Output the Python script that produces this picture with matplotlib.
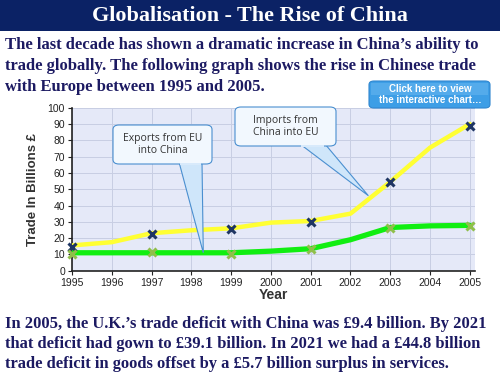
import matplotlib.pyplot as plt
from matplotlib.patches import FancyBboxPatch, Polygon, Rectangle

years = [1995, 1996, 1997, 1998, 1999, 2000, 2001, 2002, 2003, 2004, 2005]
imports_line = [15.5, 17.5, 23, 24.8, 26, 29.5, 30.5, 35, 54.5, 75.5, 90]
exports_line = [11, 11, 11, 11, 11, 12, 13.5, 19, 26.5, 27.5, 27.8]

marker_years = [1995, 1997, 1999, 2001, 2003, 2005]
imports_marks = [14.5, 22.5, 25.5, 30, 54.5, 89]
exports_marks = [10, 11.5, 10.5, 13.5, 26.5, 27.5]

title = 'Globalisation - The Rise of China'
intro = ["The last decade has shown a dramatic increase in China\u2019s ability to",
         "trade globally. The following graph shows the rise in Chinese trade",
         "with Europe between 1995 and 2005."]
outro = ["In 2005, the U.K.\u2019s trade deficit with China was \u00a39.4 billion. By 2021",
         "that deficit had gown to \u00a339.1 billion. In 2021 we had a \u00a344.8 billion",
         "trade deficit in goods offset by a \u00a35.7 billion surplus in services."]

navy = '#1c1a62'
W, H = 500, 375

fig = plt.figure(figsize=(5, 3.75), dpi=100)
fig.patch.set_facecolor('white')

def fx(x):
    return x / W

def fy(y):
    return 1 - y / H

# title bar
fig.patches.append(Rectangle((0, fy(31)), 1, 31 / H, transform=fig.transFigure,
                             facecolor='#0b2265', edgecolor='none'))
fig.text(0.5, fy(16), title, color='white', fontsize=15.9, fontweight='bold',
         family='Liberation Serif', ha='center', va='center')

for i, line in enumerate(intro):
    fig.text(fx(5), fy(45 + i * 21), line, color=navy, fontsize=12,
             fontweight='bold', family='Liberation Serif', va='center')
for i, line in enumerate(outro):
    fig.text(fx(5), fy(324 + i * 20), line, color=navy, fontsize=11.9,
             fontweight='bold', family='Liberation Serif', va='center')

# chart
ax = fig.add_axes([fx(72), fy(270.7), fx(475 - 72), (270.7 - 107.7) / H])
ax.set_facecolor('#e5e9f8')
ax.set_xlim(1995, 2005.13)
ax.set_ylim(0, 100)
ax.set_xticks(years)
ax.set_yticks(range(0, 101, 10))
ax.grid(True, color='#c8cee3', linewidth=0.7)
ax.set_axisbelow(True)
for s in ['top', 'right']:
    ax.spines[s].set_visible(False)
for s in ['left', 'bottom']:
    ax.spines[s].set_color('#222222')
    ax.spines[s].set_linewidth(1.2)
ax.tick_params(labelsize=7.5, length=3, color='#222222', labelcolor='#222222',
               pad=2)
for lab in ax.get_xticklabels() + ax.get_yticklabels():
    lab.set_family('Liberation Sans')

ax.plot(years, imports_line, color='#ffff33', linewidth=3.2, solid_capstyle='round', zorder=3)
ax.plot(years, exports_line, color='#11ee11', linewidth=3.8, solid_capstyle='round', zorder=3)
ax.plot(marker_years, imports_marks, 'x', color='#1e3563', markersize=6, mew=2.2,
        zorder=4, clip_on=False)
ax.plot(marker_years, exports_marks, 'x', color='#8fbf4a', markersize=6, mew=2.2,
        zorder=4, clip_on=False)

ax.set_xlabel('Year', fontsize=10, fontweight='bold', color='#333333',
              family='Liberation Sans', labelpad=0)
ax.set_ylabel('Trade In Billions \u00a3', fontsize=9.5, fontweight='bold',
              color='#333333', family='Liberation Sans', labelpad=6)


def callout(box, base, tip_data, text):
    x0, y0, x1, y1 = box
    tx, ty = ax.transData.transform(tip_data)
    tip = fig.transFigure.inverted().transform((tx, ty))
    poly = Polygon([(fx(base[0]), fy(y1 - 2)), (fx(base[1]), fy(y1 - 2)), tip],
                   closed=True, transform=fig.transFigure, facecolor='#cfe6fa',
                   edgecolor='#4a8fd0', linewidth=0.8, zorder=5)
    fig.patches.append(poly)
    rect = FancyBboxPatch((fx(x0), fy(y1)), fx(x1 - x0), (y1 - y0) / H,
                          boxstyle='round,pad=0,rounding_size=0.012',
                          transform=fig.transFigure, facecolor='#f2f8fe',
                          edgecolor='#4a8fd0', linewidth=0.8, zorder=6)
    fig.patches.append(rect)
    fig.patches.append(Polygon([(fx(base[0]) + 0.002, fy(y1 - 1)),
                                (fx(base[1]) - 0.002, fy(y1 - 1)),
                                (fx(base[1]) - 0.002, fy(y1 + 1)),
                                (fx(base[0]) + 0.002, fy(y1 + 1))],
                               transform=fig.transFigure, facecolor='#d8eafb',
                               edgecolor='none', zorder=7))
    fig.text(fx((x0 + x1) / 2), fy((y0 + y1) / 2), text, ha='center', va='center',
             fontsize=7.5, color='#333333', family='Open Sans', zorder=8,
             linespacing=1.2)


callout((113, 125, 212, 164), (179, 202), (1998.3, 11), 'Exports from EU\ninto China')
callout((235, 107, 336, 146), (300, 325), (2002.45, 46), 'Imports from\nChina into EU')

# button
btn = FancyBboxPatch((fx(369), fy(108)), fx(121), 27 / H,
                     boxstyle='round,pad=0,rounding_size=0.01',
                     transform=fig.transFigure, facecolor='#3d9ee6',
                     edgecolor='#2f86cf', linewidth=0.8, zorder=9)
fig.patches.append(btn)
fig.patches.append(Rectangle((fx(371), fy(95)), fx(117), 12 / H, transform=fig.transFigure,
                             facecolor='#6bb8f0', edgecolor='none', alpha=0.5, zorder=9))
fig.text(fx(430), fy(94.5), 'Click here to view\nthe interactive chart\u2026', ha='center',
         va='center', fontsize=7, fontweight='bold', color='white',
         family='Liberation Sans', zorder=10, linespacing=1.05)

fig.savefig('out.png', dpi=100)
